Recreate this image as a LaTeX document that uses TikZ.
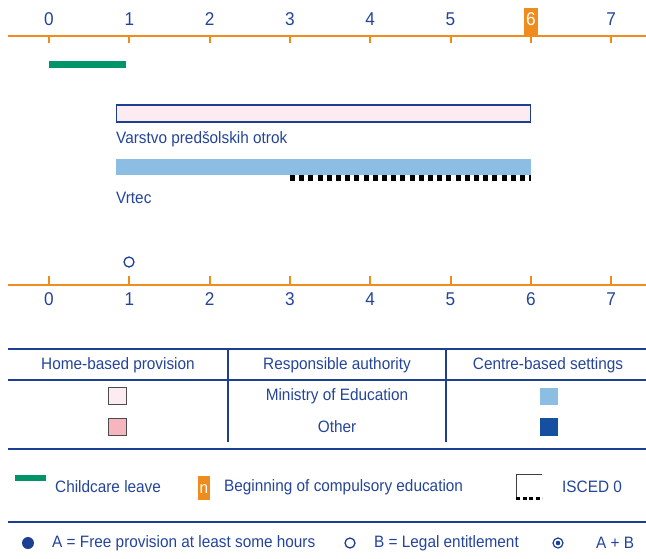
\documentclass[tikz,border=0pt]{standalone}
\usepackage{fontspec}
\setmainfont[FakeStretch=0.93]{Liberation Sans}
\definecolor{txt}{HTML}{23449A}
\definecolor{axis}{HTML}{F08C1E}
\definecolor{rule}{HTML}{1C3F94}
\definecolor{pinkl}{HTML}{FCEBF0}
\definecolor{pinkd}{HTML}{F7B5BD}
\definecolor{bluel}{HTML}{8CBDE3}
\definecolor{blued}{HTML}{154FA0}
\definecolor{green}{HTML}{009468}
\tikzset{
  num/.style={text=txt,font=\fontsize{18.5}{18.5}\selectfont,inner sep=0pt},
  lbl/.style={text=txt,font=\fontsize{16.5}{16.5}\selectfont,inner sep=0pt,anchor=west},
  hdr/.style={text=txt,font=\fontsize{16.5}{16.5}\selectfont,inner sep=0pt},
  axline/.style={draw=axis,line width=2.2pt},
  tick/.style={draw=axis,line width=2pt},
  hrule/.style={draw=rule,line width=1.6pt},
  vrule/.style={draw=rule,line width=1.4pt},
  isced/.style={draw=black,line width=6pt,dash pattern=on 5pt off 4.2pt},
}
\begin{document}
\begin{tikzpicture}[x=1pt,y=-1pt]
\useasboundingbox (0,0) rectangle (646,558);
% top axis
\draw[axline] (8,36) -- (646,36);
\fill[axis] (524,8) rectangle (538,36);
\foreach \i in {0,...,7}{
  \pgfmathsetmacro{\xx}{49+80.3*\i}
  \draw[tick] (\xx,36) -- (\xx,43);
  \ifnum\i=6
    \node[num,text=white] (t\i) at (\xx,19) {\i};
  \else
    \node[num] (t\i) at (\xx,19) {\i};
  \fi
}
% childcare leave
\fill[green] (49,61) rectangle (126,68);
% home-based bar
\draw[draw=rule,line width=1.2pt,fill=pinkl] (116.5,105) rectangle (530.5,122);
\node[lbl] (vpo) at (116,139) {Varstvo predšolskih otrok};
% centre-based bar
\fill[bluel] (116,159) rectangle (531,174.5);
\draw[isced] (290,178) -- (531,178);
\node[lbl] (vrt) at (116,198) {Vrtec};
% legal entitlement
\draw[rule,line width=1.3pt] (129,262) circle (5);
% bottom axis
\draw[axline] (8,285) -- (646,285);
\foreach \i in {0,...,7}{
  \pgfmathsetmacro{\xx}{49+80.3*\i}
  \draw[tick] (\xx,276) -- (\xx,285);
  \node[num] (b\i) at (\xx,299) {\i};
}
% table
\draw[hrule] (8,349) -- (646,349);
\draw[hrule] (8,380) -- (646,380);
\draw[hrule] (8,449) -- (646,449);
\draw[vrule] (228,349) -- (228,442);
\draw[vrule] (446,349) -- (446,442);
\node[hdr] (h1) at (118,365) {Home-based provision};
\node[hdr] (h2) at (337,365) {Responsible authority};
\node[hdr] (h3) at (548,365) {Centre-based settings};
\node[hdr] (r1) at (337,396) {Ministry of Education};
\node[hdr] (r2) at (337,427) {Other};
\draw[draw=black!70,line width=1pt,fill=pinkl] (108.5,387.5) rectangle (126.5,404.5);
\draw[draw=black!70,line width=1pt,fill=pinkd] (108.5,418.5) rectangle (126.5,435.5);
\fill[bluel] (540,388) rectangle (558,405);
\fill[blued] (540,418) rectangle (558,436);
% legend
\fill[green] (15,475) rectangle (46,481);
\node[lbl] (l1) at (55,487) {Childcare leave};
\fill[axis] (198,476) rectangle (210,500);
\node[text=white,font=\fontsize{16.5}{16.5}\selectfont,inner sep=0pt] (ln) at (204,489) {n};
\node[lbl] (l2) at (224,487) {Beginning of compulsory education};
\draw[draw=black!75,line width=1.2pt] (516.6,498) -- (516.6,474.6) -- (542,474.6);
\draw[draw=black,line width=3pt,dash pattern=on 4pt off 2.5pt] (516,498.5) -- (542,498.5);
\node[lbl] (l3) at (562,487) {ISCED 0};
\draw[hrule] (8,522) -- (646,522);
\fill[rule] (28,543) circle (6);
\node[lbl] (l4) at (52,543) {A = Free provision at least some hours};
\draw[rule,line width=1.3pt] (350,543) circle (5);
\node[lbl] (l5) at (374,543) {B = Legal entitlement};
\draw[rule,line width=1.2pt] (558,543) circle (5);
\fill[rule] (558,543) circle (2.3);
\node[lbl] (l6) at (596,543) {A + B};
\end{tikzpicture}
\end{document}
